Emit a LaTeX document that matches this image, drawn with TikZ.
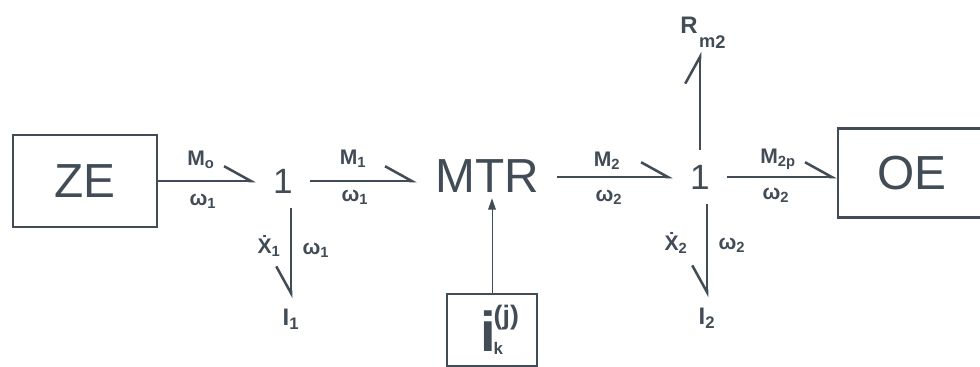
\documentclass[tikz,border=0pt]{standalone}
\usepackage{fontspec}
\setmainfont{Liberation Sans}
\usetikzlibrary{arrows.meta}

\definecolor{ink}{RGB}{66,76,86}

\tikzset{
  elem/.style={draw=ink, line width=1.9pt, inner sep=0pt,
    font=\fontsize{34}{34}\selectfont},
  junc/.style={circle, inner sep=0pt, minimum size=1.35cm,
    font=\fontsize{25}{25}\selectfont},
  bond/.style={line width=1.8pt,
    -{Straight Barb[#1, length=19pt, width=21pt]}},
  bond/.default=left,
  signal/.style={line width=0.6pt, -{Triangle[length=8pt, width=5.5pt]}},
  lbl/.style={font=\fontsize{15}{15}\selectfont\bfseries, inner sep=1pt},
  port/.style={font=\fontsize{17}{17}\selectfont\bfseries, inner xsep=1pt, inner ysep=8pt},
}

\begin{document}
\begin{tikzpicture}[x=0.025cm, y=-0.025cm, color=ink]
  \useasboundingbox (0,0) rectangle (980,367);
  \clip (0,0) rectangle (980,367);
  % Elements
  \node[elem, minimum width=3.6cm, minimum height=2.3cm] (ze) at (85,181) {ZE};
  \node[elem, minimum width=3.7cm, minimum height=2.225cm] (oe) at (912,173) {OE};
  \node[font=\fontsize{34}{34}\selectfont, inner xsep=13pt, inner ysep=4pt] (mtr) at (487,176) {MTR};
  \node[elem, minimum width=2.25cm, minimum height=1.8cm] (ik) at (492,330)
    {\bfseries\fontsize{40}{40}\selectfont i\kern-2pt\rlap{\raisebox{19.5pt}{\fontsize{19}{19}\selectfont(j)}}\raisebox{-2pt}{\fontsize{12}{12}\selectfont k}};
  % Junctions
  \node[junc] (j1) at (283,181) {1};
  \node[junc] (j2) at (700,177) {1};
  % Ports
  \node[port, anchor=north] (i1) at (291,298) {I\textsubscript{1}};
  \node[port, anchor=north] (i2) at (707,297) {I\textsubscript{2}};
  \node[port, inner ysep=2pt, anchor=south] (rm) at (703,52)
    {R\kern1pt\raisebox{-10pt}{\fontsize{13}{13}\selectfont m\raisebox{-1pt}{2}}};
  % Bond labels
  \node[lbl] (m0) at (201,160) {M\textsubscript{o}};
  \node[lbl] (w0) at (203,201) {ω\textsubscript{1}};
  \node[lbl] (m1) at (353,159) {M\textsubscript{1}};
  \node[lbl] (w1) at (355,197) {ω\textsubscript{1}};
  \node[lbl] (m2) at (607,161) {M\textsubscript{2}};
  \node[lbl] (w2) at (609,197) {ω\textsubscript{2}};
  \node[lbl] (m2p) at (778,159) {M\textsubscript{2p}};
  \node[lbl] (w2p) at (776,195) {ω\textsubscript{2}};
  \node[lbl] (x1) at (269,246) {\.{X}\textsubscript{1}};
  \node[lbl] (w1v) at (316,250) {ω\textsubscript{1}};
  \node[lbl] (x2) at (676,243) {\.{X}\textsubscript{2}};
  \node[lbl] (w2v) at (732,245) {ω\textsubscript{2}};
  % Bonds
  \draw[bond] (ze) -- (j1);
  \draw[bond] (j1) -- (j1 -| mtr.west);
  \draw[bond] (mtr.east |- j2) -- (j2);
  \draw[bond] (j2) -- (j2 -| oe.west);
  \draw[bond=right] (j1.south -| i1.north) -- (i1.north);
  \draw[bond=right] (j2.south -| i2.north) -- (i2.north);
  \draw[bond] (j2.north) -- (j2.north |- rm.south);
  % Signal
  \draw[signal] (ik.north) -- (ik.north |- mtr.south);
\end{tikzpicture}
\end{document}
